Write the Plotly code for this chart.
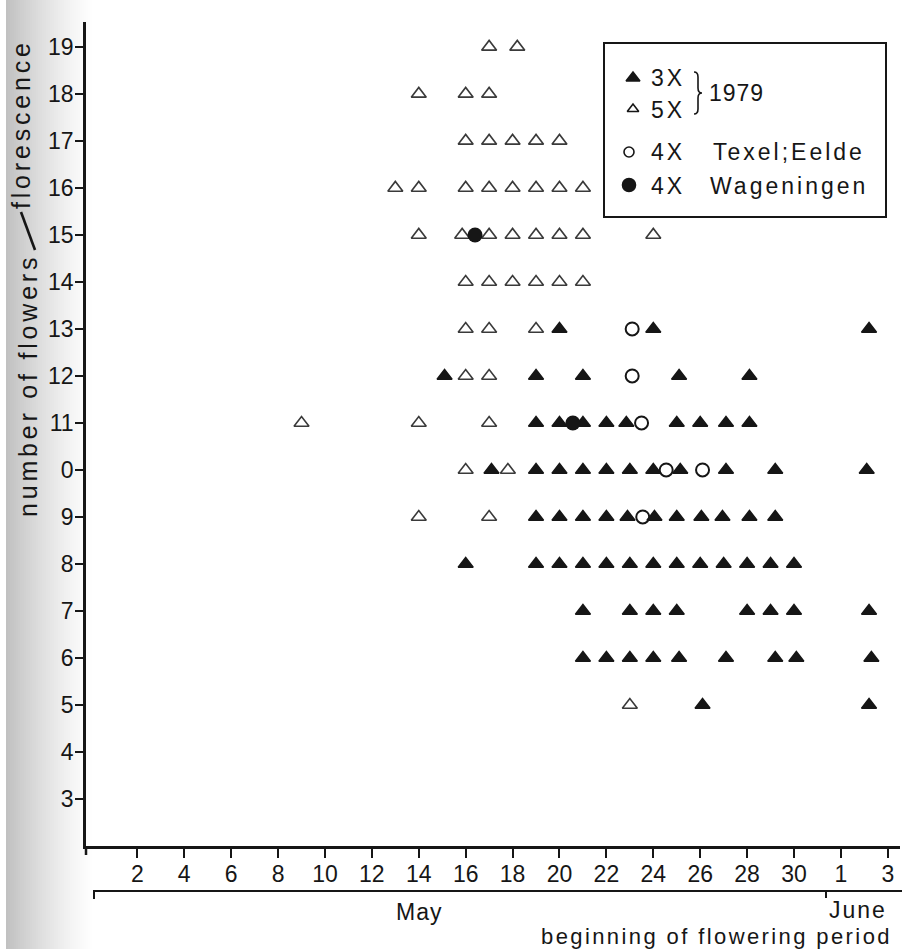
import plotly.graph_objects as go

# ---------------------------------------------------------------
# Start of flowering (day in May; June 1 = 32) vs. flowers per inflorescence
# ---------------------------------------------------------------

# 3X plants, 1979 (filled triangles)
triploid_day = [20, 24, 33.2,
                15.1, 19, 21, 25.1, 28.1,
                19, 20, 21, 22, 22.85, 25, 26, 27.1, 28.1,
                17.1, 19, 20, 21, 22, 23, 24, 25.15, 27.1, 29.2, 33.1,
                19, 20, 21, 22, 22.9, 24.05, 25, 26.05, 26.95, 28.1, 29.2,
                16, 19, 20, 21, 22, 23, 24, 25, 26, 27, 28, 29, 30,
                21, 23, 24, 25, 28, 29, 30, 33.2,
                21, 22, 23, 24, 25.1, 27.1, 29.2, 30.1, 33.3,
                26.1, 33.2]
triploid_flowers = [13] * 3 + [12] * 5 + [11] * 9 + [10] * 11 + [9] * 11 \
    + [8] * 13 + [7] * 8 + [6] * 9 + [5] * 2

# 5X plants, 1979 (open triangles)
pentaploid_day = [17, 18.2,
                  14, 16, 17,
                  16, 17, 18, 19, 20,
                  13, 14, 16, 17, 18, 19, 20, 21,
                  14, 15.85, 17, 18, 19, 20, 21, 24,
                  16, 17, 18, 19, 20, 21,
                  16, 17, 19,
                  16, 17,
                  9, 14, 17,
                  16, 17.8,
                  14, 17,
                  23]
pentaploid_flowers = [19] * 2 + [18] * 3 + [17] * 5 + [16] * 8 + [15] * 8 \
    + [14] * 6 + [13] * 3 + [12] * 2 + [11] * 3 + [10] * 2 + [9] * 2 + [5]

# 4X Texel; Eelde (open circles)
texel_day = [23.1, 23.1, 23.5, 24.55, 26.1, 23.55]
texel_flowers = [13, 12, 11, 10, 10, 9]

# 4X Wageningen (filled circles)
wageningen_day = [16.4, 20.57]
wageningen_flowers = [15, 11]

# axis ticks
x_tickvals = [2, 4, 6, 8, 10, 12, 14, 16, 18, 20, 22, 24, 26, 28, 30, 32, 34]
x_ticktext = ["2", "4", "6", "8", "10", "12", "14", "16", "18", "20",
              "22", "24", "26", "28", "30", "1", "3"]
y_tickvals = list(range(3, 20))
y_ticktext = ["3", "4", "5", "6", "7", "8", "9", "0", "11", "12", "13",
              "14", "15", "16", "17", "18", "19"]

W, H = 902, 949
INK = "#161616"
FONT = "Liberation Sans, Arial, Helvetica, sans-serif"


def px(x):
    return x / W


def spaced(text, sp):
    return f"<span style='letter-spacing:{sp}px'>{text}</span>"


fig = go.Figure()

fig.add_trace(go.Scatter(
    x=triploid_day, y=triploid_flowers, mode="markers",
    marker=dict(symbol="triangle-up", size=13, color=INK, opacity=1,
                line=dict(width=1.5, color=INK)),
    showlegend=False, hoverinfo="x+y"))
fig.add_trace(go.Scatter(
    x=pentaploid_day, y=pentaploid_flowers, mode="markers",
    marker=dict(symbol="triangle-up-open", size=13, color="#3a3a3a",
                opacity=1, line=dict(width=1.6)),
    showlegend=False, hoverinfo="x+y"))
fig.add_trace(go.Scatter(
    x=texel_day, y=texel_flowers, mode="markers",
    marker=dict(symbol="circle-open", size=13, color=INK, opacity=1,
                line=dict(width=2)),
    showlegend=False, hoverinfo="x+y"))
fig.add_trace(go.Scatter(
    x=wageningen_day, y=wageningen_flowers, mode="markers",
    marker=dict(symbol="circle", size=15, color=INK, opacity=1),
    showlegend=False, hoverinfo="x+y"))

# key symbols, drawn on a full-page pixel grid (x2/y2)
key_x = [633, 633, 629, 629]
key_y = [78, 109, 152, 185]
key_symbols = ["triangle-up", "triangle-up-open", "circle-open", "circle"]
key_sizes = [12, 10, 10, 13]
fig.add_trace(go.Scatter(
    x=key_x, y=key_y, xaxis="x2", yaxis="y2", mode="markers",
    marker=dict(symbol=key_symbols, size=key_sizes, color=INK, opacity=1,
                line=dict(width=1.6, color=INK)),
    showlegend=False, hoverinfo="skip"))

shapes = []
# shaded page gutter on the left (paper layer, underneath everything)
for i in range(46):
    x0 = 6 + i * 2
    t = max(0.0, 1 - (x0 - 6) / 88)
    g = int(round(255 - 62 * t ** 1.3))
    shapes.append(dict(type="rect", xref="paper", yref="paper",
                       x0=px(x0), x1=px(x0 + 2.2), y0=0, y1=1,
                       line=dict(width=0),
                       fillcolor=f"rgb({g},{g},{g})", layer="below"))
line_style = dict(color=INK, width=2)
# key frame
shapes.append(dict(type="rect", xref="x2", yref="y2", x0=604, x1=886,
                   y0=43, y1=217, line=dict(color=INK, width=2)))
# brace joining 3X and 5X
shapes.append(dict(type="path", xref="x2", yref="y2",
                   path="M 694,72 Q 698,72 698,77 L 698,88 Q 698,93 702,93 "
                        "Q 698,93 698,98 L 698,109 Q 698,114 694,114",
                   line=dict(color=INK, width=1.6)))
# slash of the y-axis title ("flowers / florescence")
shapes.append(dict(type="line", xref="x2", yref="y2", x0=35, x1=21,
                   y0=250, y1=212, line=dict(color=INK, width=2.6)))
# stub of the y axis below the x axis
shapes.append(dict(type="line", xref="x2", yref="y2", x0=86, x1=86,
                   y0=846, y1=855, line=dict(color=INK, width=2.5)))
# month bracket under the axis
shapes.append(dict(type="line", xref="x2", yref="y2", x0=94, x1=W,
                   y0=891, y1=891, line=line_style))
shapes.append(dict(type="line", xref="x2", yref="y2", x0=94, x1=94,
                   y0=890, y1=899, line=line_style))
shapes.append(dict(type="line", xref="x2", yref="y2", x0=826, x1=826,
                   y0=890, y1=898, line=line_style))

annotations = []


def note(text, x, y, size, xanchor="center", angle=0, family=FONT):
    annotations.append(dict(text=text, x=x, y=y, xref="x2", yref="y2",
                            xanchor=xanchor, yanchor="middle",
                            textangle=angle, showarrow=False,
                            font=dict(family=family, size=size, color=INK)))


# y-axis title: number of flowers / florescence (second word raised)
note(spaced("number of flowers", 3.8), 28, 386, 25, angle=-90)
note(spaced("florescence", 3.8), 21, 124, 25, angle=-90)

# month labels and x title
note(spaced("May", 1), 419, 912, 23)
note(spaced("June", 2), 889, 910, 23, xanchor="right")
note(spaced("beginning of flowering period", 2.4), 894, 936, 22,
     xanchor="right")

# key labels
note(spaced("3X", 3), 649, 78, 23, xanchor="left")
note(spaced("5X", 3), 649, 110, 23, xanchor="left")
note(spaced("1979", 1), 707, 93, 23, xanchor="left")
note(spaced("4X", 3), 649, 152, 23, xanchor="left")
note(spaced("Texel;Eelde", 3), 711, 152, 23, xanchor="left")
note(spaced("4X", 3), 649, 186, 23, xanchor="left")
note(spaced("Wageningen", 3), 708, 186, 23, xanchor="left")

axis_common = dict(showline=True, linecolor=INK, linewidth=2.5,
                   ticks="outside", tickwidth=2, tickcolor=INK,
                   showgrid=False, zeroline=False, mirror=False,
                   tickfont=dict(family=FONT, size=23, color=INK))

fig.update_layout(
    width=W, height=H,
    margin=dict(l=0, r=0, t=0, b=0),
    paper_bgcolor="white", plot_bgcolor="rgba(0,0,0,0)",
    showlegend=False,
    font=dict(family=FONT, color=INK),
    xaxis=dict(domain=[86 / W, 900 / W], range=[-0.19, 34.52],
               tickmode="array", tickvals=x_tickvals, ticktext=x_ticktext,
               ticklen=9, ticklabelstandoff=-3, anchor="y", **axis_common),
    yaxis=dict(domain=[1 - 846 / H, 1 - 22 / H], range=[2, 19.53],
               tickmode="array", tickvals=y_tickvals, ticktext=y_ticktext,
               ticklen=8, ticklabelstandoff=-3, anchor="x", **axis_common),
    xaxis2=dict(domain=[0, 1], range=[0, W], visible=False, anchor="y2",
                fixedrange=True),
    yaxis2=dict(domain=[0, 1], range=[H, 0], visible=False, anchor="x2",
                fixedrange=True),
    shapes=shapes,
    annotations=annotations,
)

fig.write_html("out.html")
